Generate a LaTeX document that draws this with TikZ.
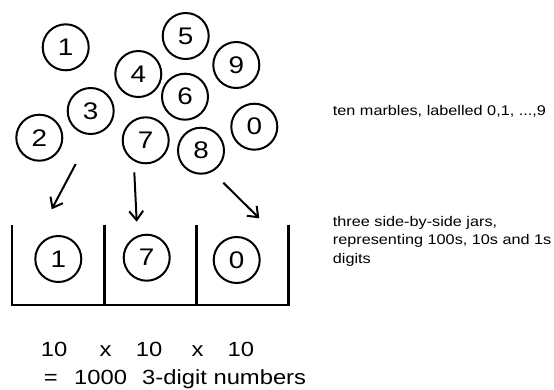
\documentclass[tikz,border=0pt]{standalone}
\usepackage{fontspec}
\setmainfont{Liberation Sans}
\newfontfamily\widefont[FakeStretch=1.16]{Liberation Sans}
\usetikzlibrary{arrows.meta}
\begin{document}
\begin{tikzpicture}[x=1pt,y=-1pt,
  marble/.style={circle,draw,line width=2pt,minimum size=46pt,inner sep=0pt,font=\widefont\fontsize{24}{24}\selectfont},
  jarline/.style={line width=2.6pt},
  pick/.style={line width=2pt,-{Straight Barb[length=9pt,width=14pt,line width=2pt]}},
  note/.style={anchor=base west,align=left,inner sep=0pt,font=\widefont\fontsize{14}{18.5}\selectfont},
  calc/.style={anchor=base west,inner sep=0pt,font=\widefont\fontsize{20.5}{21}\selectfont}]
\useasboundingbox (0,0) rectangle (554,389);
% marbles
\node[marble] (m1) at (65.7,47.3) {1};
\node[marble] (m5) at (185.7,36) {5};
\node[marble] (m4) at (138.3,74) {4};
\node[marble] (m9) at (236.3,65) {9};
\node[marble] (m6) at (185,96.7) {6};
\node[marble] (m3) at (90.7,111) {3};
\node[marble] (m2) at (39.3,137.7) {2};
\node[marble] (m7) at (145.7,140.3) {7};
\node[marble] (m8) at (201,150.7) {8};
\node[marble] (m0) at (254.3,126.7) {0};
% jars
\coordinate (jtl) at (12,225);
\coordinate (jbl) at (12,305);
\coordinate (jbr) at (288.7,305);
\coordinate (jtr) at (288.7,225);
\coordinate (d1t) at (104.3,225);
\coordinate (d1b) at (104.3,305);
\coordinate (d2t) at (196.7,225);
\coordinate (d2b) at (196.7,305);
\draw[jarline] (jtl) -- (jbl) -- (jbr) -- (jtr);
\draw[jarline] (d1t) -- (d1b);
\draw[jarline] (d2t) -- (d2b);
\node[marble] (j1) at (58.3,259) {1};
\node[marble] (j7) at (146.7,257.7) {7};
\node[marble] (j0) at (236.7,260) {0};
% arrows
\coordinate (a1s) at (75.7,164);
\coordinate (a1e) at (51.7,209.3);
\coordinate (a2s) at (134.3,172.3);
\coordinate (a2e) at (136.7,221.7);
\coordinate (a3s) at (223.3,182.7);
\coordinate (a3e) at (259.3,218.3);
\draw[pick] (a1s) -- (a1e);
\draw[pick] (a2s) -- (a2e);
\draw[pick] (a3s) -- (a3e);
% notes
\node[note] (n1) at (332.7,115) {ten marbles, labelled 0,1, ...,9};
\node[note] (n2) at (332.7,263.3) {three side-by-side jars,\\representing 100s, 10s and 1s\\digits};
% calculation
\node[calc] (c1) at (40.7,356.7) {10};
\node[calc] (c2) at (99.5,356.7) {x};
\node[calc] (c3) at (135.7,356.7) {10};
\node[calc] (c4) at (191.5,356.7) {x};
\node[calc] (c5) at (227.4,356.7) {10};
\node[calc] (c6) at (43.6,384.3) {=};
\node[calc] (c7) at (74,384.3) {1000};
\node[calc] (c8) at (142,384.3) {3-digit numbers};
\end{tikzpicture}
\end{document}
